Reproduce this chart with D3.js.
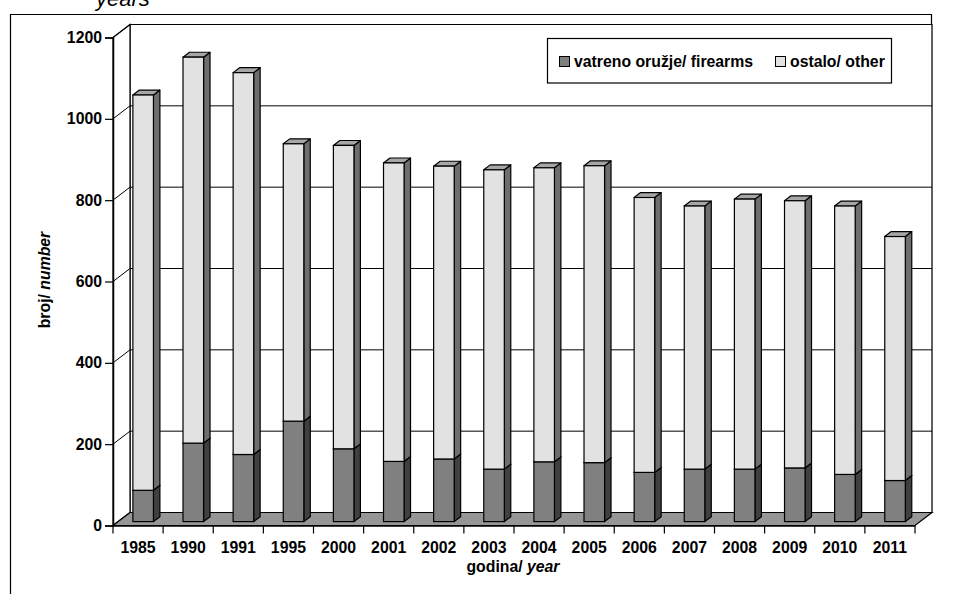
<!DOCTYPE html>
<html>
<head>
<meta charset="utf-8">
<script src="https://cdn.jsdelivr.net/npm/d3@7"></script>
<style>
  body { margin: 0; background: #fff; }
  text { font-family: "Liberation Sans", Arial, sans-serif; }
</style>
</head>
<body>
<svg id="chart" width="960" height="594"></svg>
<script>
// values
const years = ["1985", "1990", "1991", "1995", "2000", "2001", "2002", "2003",
               "2004", "2005", "2006", "2007", "2008", "2009", "2010", "2011"];
const firearms = [77, 193, 165, 247, 179, 148, 154, 129, 147, 145, 121, 129, 129, 132, 116, 101];
const other = [972, 949, 939, 682, 746, 734, 720, 736, 723, 730, 676, 647, 664, 657, 660, 600];
const yTicks = [0, 200, 400, 600, 800, 1000, 1200];
const seriesNames = ["vatreno oružje/ firearms", "ostalo/ other"];

const svg = d3.select("#chart");
const FS = 15.8;

// 3d frame: front plane + depth offset
const DX = 17, DY = -13;
const x = d3.scaleBand().domain(years).range([113, 915]).paddingInner(0.59).paddingOuter(0.295);
const xCat = d3.scaleBand().domain(years).range([113, 915]).padding(0);
const y = d3.scaleLinear().domain([0, 1200]).range([525.5, 37.5]);

// bar sits between 30% and 68% of the depth
const t0 = 0.3, t1 = 0.68;
const bx = DX * t0, by = DY * t0;
const ddx = DX * (t1 - t0), ddy = DY * (t1 - t0);

const colors = {
  fire: { front: "#808080", side: "#404040", top: "#606060" },
  other: { front: "#e2e2e2", side: "#6e6e6e", top: "#a6a6a6" }
};

const line = d3.line();
const poly = pts => line(pts) + "Z";

// outer frame
svg.append("path")
  .attr("d", "M10.5,600V14.5H931.5V513")
  .attr("fill", "none").attr("stroke", "#000").attr("stroke-width", 1.2);

// title fragment cut off at the top
svg.append("text").attr("x", 96).attr("y", 6)
  .attr("font-size", 22).attr("font-style", "italic").text("years");

const x0 = 113, x1 = 915;
const yTop = y(1200), yBot = y(0);

// back wall
svg.append("path")
  .attr("d", poly([[x0 + DX, yTop + DY], [x1 + DX, yTop + DY], [x1 + DX, yBot + DY], [x0 + DX, yBot + DY]]))
  .attr("fill", "#fff").attr("stroke", "#000").attr("stroke-width", 1.2);
// side wall
svg.append("path")
  .attr("d", poly([[x0, yTop], [x0 + DX, yTop + DY], [x0 + DX, yBot + DY], [x0, yBot]]))
  .attr("fill", "#fff").attr("stroke", "#000").attr("stroke-width", 1.2);

// gridlines
yTicks.filter(d => d > 0).forEach(d => {
  svg.append("path")
    .attr("d", line([[x0, y(d)], [x0 + DX, y(d) + DY], [x1 + DX, y(d) + DY]]))
    .attr("fill", "none").attr("stroke", "#000").attr("stroke-width", 1);
});

// floor
svg.append("path")
  .attr("d", poly([[x0, yBot], [x1, yBot], [x1 + DX, yBot + DY], [x0 + DX, yBot + DY]]))
  .attr("fill", "#969696").attr("stroke", "#000").attr("stroke-width", 1.2);

// one 3d box
function box(g, left, w, v0, v1, c) {
  const L = left + bx, R = left + bx + w;
  const yb = y(v0) + by, yt = y(v1) + by;
  g.append("path").attr("d", poly([[R, yb], [R + ddx, yb + ddy], [R + ddx, yt + ddy], [R, yt]]))
    .attr("fill", c.side).attr("stroke", "#000").attr("stroke-width", 1.2).attr("stroke-linejoin", "round");
  g.append("path").attr("d", poly([[L, yt], [R, yt], [R + ddx, yt + ddy], [L + ddx, yt + ddy]]))
    .attr("fill", c.top).attr("stroke", "#000").attr("stroke-width", 1.2).attr("stroke-linejoin", "round");
  g.append("rect").attr("x", L).attr("y", yt).attr("width", w).attr("height", yb - yt)
    .attr("fill", c.front).attr("stroke", "#000").attr("stroke-width", 1.2);
}

const bars = svg.append("g");
years.forEach((yr, i) => {
  const g = bars.append("g");
  box(g, x(yr), x.bandwidth(), 0, firearms[i], colors.fire);
  box(g, x(yr), x.bandwidth(), firearms[i], firearms[i] + other[i], colors.other);
});

// y axis
const yAxis = svg.append("g").attr("transform", `translate(${x0},0)`)
  .call(d3.axisLeft(y).tickValues(yTicks).tickSize(8).tickPadding(3).tickFormat(d3.format("d")));
yAxis.select(".domain").attr("stroke", "#000").attr("stroke-width", 1.5);
yAxis.selectAll("line").attr("stroke", "#000").attr("stroke-width", 1.2);
yAxis.selectAll("text").attr("font-size", FS).attr("font-weight", "bold").attr("fill", "#000")
  .attr("font-family", "Liberation Sans, Arial, sans-serif");

// x axis
const xAxis = svg.append("g").attr("transform", `translate(0,${yBot})`)
  .call(d3.axisBottom(xCat).tickSize(0).tickPadding(16));
xAxis.select(".domain").attr("stroke", "#000").attr("stroke-width", 1.5);
xAxis.selectAll("text").attr("font-size", FS).attr("font-weight", "bold").attr("fill", "#000")
  .attr("font-family", "Liberation Sans, Arial, sans-serif");
// category dividers
xAxis.selectAll(".div").data(years.concat(["end"])).enter().append("line")
  .attr("x1", (d, i) => x0 + i * xCat.step()).attr("x2", (d, i) => x0 + i * xCat.step())
  .attr("y1", 0).attr("y2", 8).attr("stroke", "#000").attr("stroke-width", 1.2);

// axis titles
const yt = svg.append("text").attr("transform", "translate(50,280) rotate(-90)")
  .attr("text-anchor", "middle").attr("font-size", FS).attr("font-weight", "bold");
yt.append("tspan").text("broj/ ");
yt.append("tspan").attr("font-style", "italic").text("number");

const xt = svg.append("text").attr("x", 513).attr("y", 572)
  .attr("text-anchor", "middle").attr("font-size", FS).attr("font-weight", "bold");
xt.append("tspan").text("godina/ ");
xt.append("tspan").attr("font-style", "italic").text("year");

// legend
const lg = svg.append("g");
lg.append("rect").attr("x", 547.5).attr("y", 38.5).attr("width", 344).attr("height", 44.5)
  .attr("fill", "#fff").attr("stroke", "#000").attr("stroke-width", 1.2);
const legendX = [559.5, 775.5];
seriesNames.forEach((name, i) => {
  lg.append("rect").attr("x", legendX[i]).attr("y", 56.5).attr("width", 10).attr("height", 10)
    .attr("fill", i === 0 ? colors.fire.front : colors.other.front).attr("stroke", "#000");
  lg.append("text").attr("x", legendX[i] + 14.5).attr("y", 67)
    .attr("font-size", FS).attr("font-weight", "bold").text(name);
});
</script>
</body>
</html>
